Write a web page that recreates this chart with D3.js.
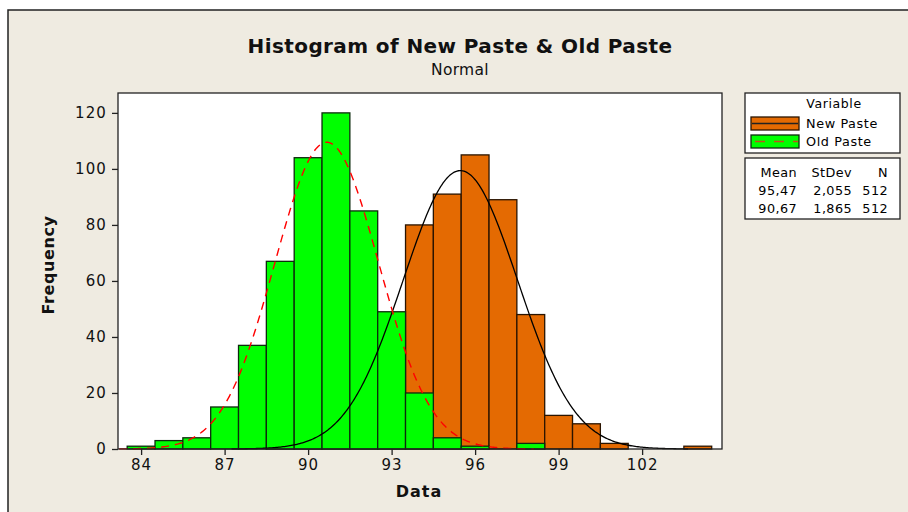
<!DOCTYPE html>
<html>
<head>
<meta charset="utf-8">
<script src="https://cdn.jsdelivr.net/npm/d3@7"></script>
<style>
  html, body { margin: 0; padding: 0; background: #fff; }
  svg { display: block; font-family: "DejaVu Sans", Verdana, sans-serif; }
</style>
</head>
<body>
<div id="chart"></div>
<script>
// bins are 1 unit wide, centred on whole numbers
const binMids = [84, 85, 86, 87, 88, 89, 90, 91, 92, 93, 94, 95, 96, 97, 98, 99, 100, 101, 102, 103, 104];
const newPaste = [0, 0, 0, 0, 0, 1, 2, 8, 20, 44, 80, 91, 105, 89, 48, 12, 9, 2, 0, 0, 1];
const oldPaste = [1, 3, 4, 15, 37, 67, 104, 120, 85, 49, 20, 4, 1, 0, 2, 0, 0, 0, 0, 0, 0];

const seriesNames = ["New Paste", "Old Paste"];
const means = [95.47, 90.67];
const stdevs = [2.055, 1.865];
const counts = [512, 512];
const meanLabels = ["95,47", "90,67"];
const sdLabels = ["2,055", "1,865"];

const xTicks = [84, 87, 90, 93, 96, 99, 102];
const yTicks = [0, 20, 40, 60, 80, 100, 120];

const W = 908, H = 512;
const plot = { left: 118, right: 722, top: 93, bottom: 449 };

const svg = d3.select("#chart").append("svg").attr("width", W).attr("height", H);

// outer panel
svg.append("rect").attr("x", 8).attr("y", 10).attr("width", 1000).attr("height", 600)
  .attr("fill", "#EFEBE1").attr("stroke", "#222").attr("stroke-width", 1.5);

const x = d3.scaleLinear().domain([83.17, 104.87]).range([plot.left, plot.right]);
const y = d3.scaleLinear().domain([0, 127.1]).range([plot.bottom, plot.top]);

svg.append("rect").attr("x", plot.left).attr("y", plot.top)
  .attr("width", plot.right - plot.left).attr("height", plot.bottom - plot.top)
  .attr("fill", "#fff");

const g = svg.append("g");

function drawBars(vals, fill, stroke) {
  g.append("g").selectAll("rect")
    .data(binMids.map((m, i) => ({ m, v: vals[i] })).filter(d => d.v > 0))
    .join("rect")
    .attr("x", d => x(d.m - 0.5))
    .attr("width", d => x(d.m + 0.5) - x(d.m - 0.5))
    .attr("y", d => y(d.v))
    .attr("height", d => y(0) - y(d.v))
    .attr("fill", fill).attr("stroke", stroke).attr("stroke-width", 1.3);
}
drawBars(newPaste, "#E46A02", "#2a1400");
drawBars(oldPaste, "#00FF00", "#0d2a0d");

// fitted normal curves (bin width 1)
function normalCurve(mu, sd, n) {
  const pts = d3.range(mu - 4 * sd, mu + 4 * sd, 0.05).map(v => [v,
    n * Math.exp(-0.5 * ((v - mu) / sd) ** 2) / (sd * Math.sqrt(2 * Math.PI))]);
  return pts.filter(p => x(p[0]) >= plot.left && x(p[0]) <= plot.right);
}
const line = d3.line().x(d => x(d[0])).y(d => y(d[1]));
g.append("path").attr("d", line(normalCurve(means[0], stdevs[0], counts[0])))
  .attr("fill", "none").attr("stroke", "#000").attr("stroke-width", 1.3);
g.append("path").attr("d", line(normalCurve(means[1], stdevs[1], counts[1])))
  .attr("fill", "none").attr("stroke", "#FF0000").attr("stroke-width", 1.4)
  .attr("stroke-dasharray", "8,6");

// frame
svg.append("rect").attr("x", plot.left).attr("y", plot.top)
  .attr("width", plot.right - plot.left).attr("height", plot.bottom - plot.top)
  .attr("fill", "none").attr("stroke", "#222").attr("stroke-width", 1.3);

// axes
const xAxis = svg.append("g").attr("transform", `translate(0,${plot.bottom})`)
  .call(d3.axisBottom(x).tickValues(xTicks).tickSize(6).tickPadding(4));
const yAxis = svg.append("g").attr("transform", `translate(${plot.left},0)`)
  .call(d3.axisLeft(y).tickValues(yTicks).tickSize(6).tickPadding(5));
[xAxis, yAxis].forEach(a => {
  a.select(".domain").remove();
  a.selectAll("line").attr("stroke", "#222").attr("stroke-width", 1.3);
  a.selectAll("text").attr("font-family", "DejaVu Sans").attr("font-size", 15)
    .attr("fill", "#111").attr("letter-spacing", 1.1);
});

// titles
svg.append("text").attr("x", 460).attr("y", 53).attr("text-anchor", "middle")
  .attr("font-size", 20).attr("font-weight", "bold").attr("fill", "#111")
  .attr("letter-spacing", 0.4)
  .text("Histogram of New Paste & Old Paste");
svg.append("text").attr("x", 460).attr("y", 75).attr("text-anchor", "middle")
  .attr("font-size", 15.5).attr("fill", "#111").attr("letter-spacing", 0.3).text("Normal");
svg.append("text").attr("x", 419).attr("y", 497).attr("text-anchor", "middle")
  .attr("font-size", 16).attr("font-weight", "bold").attr("fill", "#111")
  .attr("letter-spacing", 1).text("Data");
svg.append("text").attr("transform", "translate(54,265) rotate(-90)").attr("text-anchor", "middle")
  .attr("font-size", 16).attr("font-weight", "bold").attr("fill", "#111")
  .attr("letter-spacing", 0.6).text("Frequency");

// legend
const lg = svg.append("g");
lg.append("rect").attr("x", 745).attr("y", 93).attr("width", 155).attr("height", 60)
  .attr("fill", "#fff").attr("stroke", "#222").attr("stroke-width", 1.3);
lg.append("text").attr("x", 834).attr("y", 108).attr("text-anchor", "middle")
  .attr("font-size", 12.5).attr("letter-spacing", 0.6).text("Variable");
const swFill = ["#E46A02", "#00FF00"];
const swStroke = ["#2a1400", "#0d2a0d"];
seriesNames.forEach((name, i) => {
  const yy = 117 + i * 18;
  lg.append("rect").attr("x", 751).attr("y", yy).attr("width", 48).attr("height", 13)
    .attr("fill", swFill[i]).attr("stroke", swStroke[i]).attr("stroke-width", 1.3);
  lg.append("line").attr("x1", 752).attr("x2", 798).attr("y1", yy + 6.5).attr("y2", yy + 6.5)
    .attr("stroke", i ? "#c0501a" : "#222").attr("stroke-width", 1.3)
    .attr("stroke-dasharray", i ? "10,9" : null).attr("stroke-dashoffset", i ? -3 : 0);
  lg.append("text").attr("x", 806).attr("y", yy + 11).attr("font-size", 12.8)
    .attr("letter-spacing", 0.6).text(name);
});

lg.append("rect").attr("x", 745).attr("y", 158).attr("width", 155).attr("height", 61)
  .attr("fill", "#fff").attr("stroke", "#222").attr("stroke-width", 1.3);
const cols = [797, 852, 888];
const headers = ["Mean", "StDev", "N"];
headers.forEach((h, j) => lg.append("text").attr("x", cols[j]).attr("y", 177)
  .attr("text-anchor", "end").attr("font-size", 12.8).attr("letter-spacing", 0.4).text(h));
seriesNames.forEach((name, i) => {
  const row = [meanLabels[i], sdLabels[i], String(counts[i])];
  row.forEach((t, j) => lg.append("text").attr("x", cols[j]).attr("y", 195 + i * 18)
    .attr("text-anchor", "end").attr("font-size", 12.8).attr("letter-spacing", 0.4).text(t));
});
</script>
</body>
</html>
